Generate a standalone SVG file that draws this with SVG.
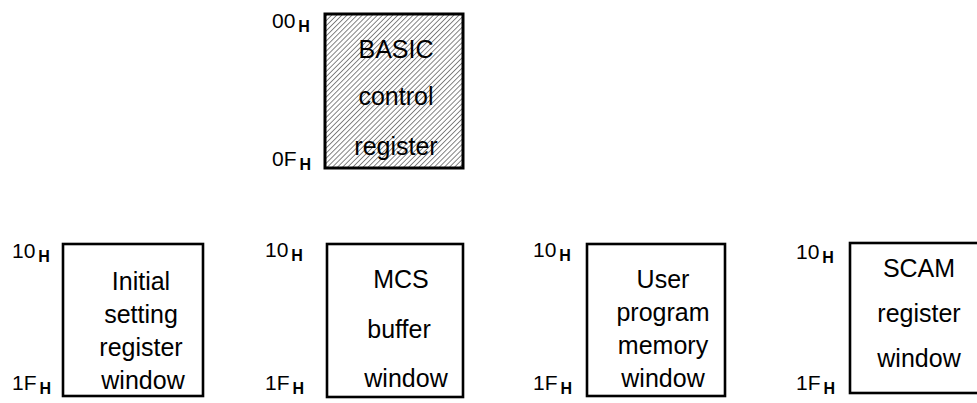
<svg xmlns="http://www.w3.org/2000/svg" width="977" height="403" viewBox="0 0 977 403">
<defs>
<pattern id="hatch" patternUnits="userSpaceOnUse" width="3.6" height="3.6" patternTransform="rotate(45)">
<rect width="3.6" height="3.6" fill="#fff"/>
<line x1="0" y1="0" x2="0" y2="3.6" stroke="#222" stroke-width="1.1"/>
</pattern>
<style>
.box{fill:#fff;stroke:#000;stroke-width:2.6}
.hbox{fill:url(#hatch);stroke:#000;stroke-width:3}
.t{font-family:"Liberation Sans",Arial,sans-serif;font-size:25px;fill:#000;text-anchor:middle}
.lbl{font-family:"Liberation Sans",Arial,sans-serif;font-size:21px;fill:#000}
.sub{font-size:16px;font-weight:bold}
</style>
</defs>
<rect width="977" height="403" fill="#fff"/>
<g id="basic">
<rect class="hbox" x="325" y="14" width="138" height="154"/>
<text class="t" x="396" y="58">BASIC</text>
<text class="t" x="396" y="105">control</text>
<text class="t" x="396" y="155">register</text>
<text class="lbl" x="272" y="28">00<tspan class="sub" dx="3" dy="4">H</tspan></text>
<text class="lbl" x="272" y="166">0F<tspan class="sub" dx="3" dy="4">H</tspan></text>
</g>
<g id="initial">
<rect class="box" x="63" y="244" width="140" height="152"/>
<text class="t" x="141" y="290">Initial</text>
<text class="t" x="141" y="323">setting</text>
<text class="t" x="141" y="356">register</text>
<text class="t" x="143" y="389">window</text>
<text class="lbl" x="12" y="258">10<tspan class="sub" dx="3" dy="4">H</tspan></text>
<text class="lbl" x="12" y="390">1F<tspan class="sub" dx="3" dy="4">H</tspan></text>
</g>
<g id="mcs">
<rect class="box" x="327" y="244" width="136" height="153"/>
<text class="t" x="401" y="288">MCS</text>
<text class="t" x="399" y="338">buffer</text>
<text class="t" x="406" y="387">window</text>
<text class="lbl" x="265" y="257">10<tspan class="sub" dx="3" dy="4">H</tspan></text>
<text class="lbl" x="265" y="390">1F<tspan class="sub" dx="3" dy="4">H</tspan></text>
</g>
<g id="user">
<rect class="box" x="587" y="244" width="138" height="152"/>
<text class="t" x="663" y="288">User</text>
<text class="t" x="663" y="321">program</text>
<text class="t" x="663" y="354">memory</text>
<text class="t" x="663" y="387">window</text>
<text class="lbl" x="533" y="257">10<tspan class="sub" dx="3" dy="4">H</tspan></text>
<text class="lbl" x="533" y="390">1F<tspan class="sub" dx="3" dy="4">H</tspan></text>
</g>
<g id="scam">
<rect class="box" x="850" y="243" width="140" height="150"/>
<text class="t" x="919" y="277">SCAM</text>
<text class="t" x="919" y="322">register</text>
<text class="t" x="919" y="367">window</text>
<text class="lbl" x="796" y="259">10<tspan class="sub" dx="3" dy="4">H</tspan></text>
<text class="lbl" x="796" y="390">1F<tspan class="sub" dx="3" dy="4">H</tspan></text>
</g>
<g id="connectors"></g>
</svg>
